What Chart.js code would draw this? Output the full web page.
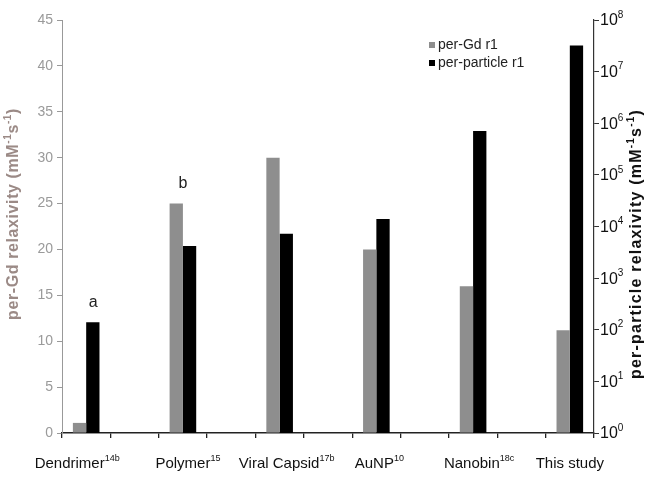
<!DOCTYPE html>
<html lang="en">
<head>
<meta charset="UTF-8">
<title>Relaxivity comparison</title>
<script src="https://cdn.jsdelivr.net/npm/chart.js"></script>
<style>
  body { margin: 0; background: #fff; }
  #wrap { width: 651px; height: 477px; }
</style>
</head>
<body>
<div id="wrap"><canvas id="relaxChart" width="651" height="477"></canvas></div>
<script>
// categories (empty slots are the gaps between the groups)
const categories = ['Dendrimer', '', 'Polymer', '', 'Viral Capsid', '', 'AuNP', '', 'Nanobin', '', 'This study'];
const refs = ['14b', '', '15', '', '17b', '', '10', '', '18c', '', ''];

// per-Gd r1 (mM-1 s-1), left axis
const perGdR1 = [1.1, null, 25, null, 30, null, 20, null, 16, null, 11.2];
// per-particle r1 (mM-1 s-1), right log axis
const perParticleR1 = [140, null, 4200, null, 7200, null, 14000, null, 710000, null, 3.2e7];

const gdTicks = [0, 5, 10, 15, 20, 25, 30, 35, 40, 45];
const particleExps = [0, 1, 2, 3, 4, 5, 6, 7, 8];

// small letters over two of the groups
const notes = [{ index: 0, text: 'a' }, { index: 2, text: 'b' }];

// label placement tweaks (px)
const labelNudge = [-9, 0, 5, 0, 7, 0, 3, 0, 6, 0, 0];
const noteNudge = [7, 0, 0];

const FONT = '"Liberation Sans", Arial, sans-serif';

// draw text with superscript parts, parts = [[text, isSup], ...]
function drawRich(ctx, parts, x, y, size, weight, color, align, supRatio, spacing) {
    const supSize = Math.round(size * (supRatio || 0.65));
    ctx.letterSpacing = (spacing || 0) + 'px';
    let total = 0;
    parts.forEach(p => {
        ctx.font = weight + ' ' + (p[1] ? supSize : size) + 'px ' + FONT;
        total += ctx.measureText(p[0]).width;
    });
    let cx = align === 'center' ? x - total / 2 : x;
    ctx.fillStyle = color;
    ctx.textAlign = 'left';
    ctx.textBaseline = 'middle';
    parts.forEach(p => {
        ctx.font = weight + ' ' + (p[1] ? supSize : size) + 'px ' + FONT;
        ctx.fillText(p[0], cx, p[1] ? y - size * 0.38 : y);
        cx += ctx.measureText(p[0]).width;
    });
    ctx.letterSpacing = '0px';
}

const extras = {
    id: 'extras',
    afterDraw(chart) {
        const ctx = chart.ctx;
        const x = chart.scales.x;
        const y = chart.scales.y;
        const y1 = chart.scales.y1;
        ctx.save();

        // category labels
        categories.forEach((c, i) => {
            if (!c) return;
            const parts = [[c, false]];
            if (refs[i]) parts.push([refs[i], true]);
            drawRich(ctx, parts, x.getPixelForValue(i) + labelNudge[i], 464, 15, 'normal', '#111', 'center', 0.58);
        });

        // right axis labels 10^n
        particleExps.forEach(e => {
            const py = y1.getPixelForValue(Math.pow(10, e));
            drawRich(ctx, [['10', false], [String(e), true]], y1.left + 6, py + 1, 16, 'normal', '#111', 'left');
        });

        // axis titles, both read bottom to top
        ctx.save();
        ctx.translate(14, 214);
        ctx.rotate(-Math.PI / 2);
        drawRich(ctx, [['per-Gd relaxivity (mM', false], ['-1', true], ['s', false], ['-1', true], [')', false]],
            0, 0, 16, 'bold', '#9b8a86', 'center', 0.65, 0.6);
        ctx.restore();

        ctx.save();
        ctx.translate(637, 244);
        ctx.rotate(-Math.PI / 2);
        drawRich(ctx, [['per-particle relaxivity (mM', false], ['-1', true], ['s', false], ['-1', true], [')', false]],
            0, 0, 16, 'bold', '#111', 'center', 0.65, 1.2);
        ctx.restore();

        // legend
        chart.data.datasets.forEach((ds, i) => {
            const ly = 45 + i * 18;
            ctx.fillStyle = ds.backgroundColor;
            ctx.fillRect(429, ly - 3, 6, 6);
            ctx.fillStyle = '#222';
            ctx.font = '14px ' + FONT;
            ctx.textAlign = 'left';
            ctx.textBaseline = 'middle';
            ctx.fillText(ds.label, 438, ly);
        });

        // notes
        notes.forEach(n => {
            const top = Math.min(y.getPixelForValue(perGdR1[n.index]), y1.getPixelForValue(perParticleR1[n.index]));
            ctx.fillStyle = '#222';
            ctx.font = '16px ' + FONT;
            ctx.textAlign = 'center';
            ctx.textBaseline = 'bottom';
            ctx.fillText(n.text, x.getPixelForValue(n.index) + noteNudge[n.index], top - 12);
        });

        ctx.restore();
    }
};

const ctx = document.getElementById('relaxChart').getContext('2d');
const chart = new Chart(ctx, {
    type: 'bar',
    data: {
        labels: categories,
        datasets: [
            {
                label: 'per-Gd r1',
                data: perGdR1,
                backgroundColor: '#8e8e8e',
                yAxisID: 'y',
                categoryPercentage: 0.55,
                barPercentage: 1.0
            },
            {
                label: 'per-particle r1',
                data: perParticleR1,
                backgroundColor: '#000000',
                yAxisID: 'y1',
                categoryPercentage: 0.55,
                barPercentage: 1.0
            }
        ]
    },
    options: {
        responsive: false,
        animation: false,
        layout: { padding: { top: 20, left: 0, right: 0, bottom: 0 } },
        plugins: {
            legend: { display: false },
            tooltip: { enabled: false }
        },
        scales: {
            x: {
                grid: { display: true, drawOnChartArea: false, offset: true, tickLength: 5, color: '#222', lineWidth: 1.3 },
                border: { color: '#222', width: 1.5 },
                ticks: { display: false },
                afterFit(scale) { scale.height = 44; }
            },
            y: {
                position: 'left',
                min: 0,
                max: 45,
                grid: { drawOnChartArea: false, tickLength: 5, color: '#999' },
                border: { color: '#999', width: 1 },
                ticks: {
                    stepSize: 5,
                    color: '#9a9a9a',
                    font: { size: 14, family: FONT },
                    padding: 4
                },
                afterBuildTicks(scale) {
                    scale.ticks = gdTicks.map(v => ({ value: v }));
                },
                afterFit(scale) { scale.width = 62; }
            },
            y1: {
                type: 'logarithmic',
                position: 'right',
                min: 1,
                max: 1e8,
                grid: { drawOnChartArea: false, tickLength: 5, color: '#333' },
                border: { color: '#333', width: 1.2 },
                ticks: { display: false },
                afterBuildTicks(scale) {
                    scale.ticks = particleExps.map(e => ({ value: Math.pow(10, e), major: true }));
                },
                afterFit(scale) { scale.width = 57; }
            }
        }
    },
    plugins: [extras]
});
</script>
</body>
</html>
